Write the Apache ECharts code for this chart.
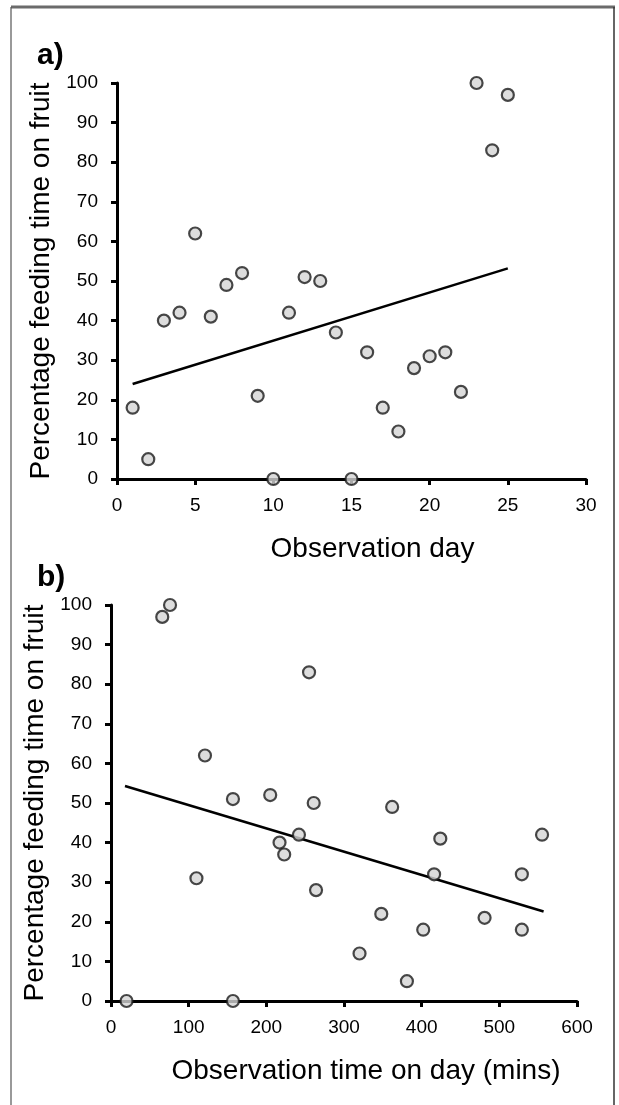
<!DOCTYPE html>
<html>
<head>
<meta charset="utf-8">
<script src="https://cdn.jsdelivr.net/npm/echarts@6/dist/echarts.min.js"></script>
<style>
  html, body { margin: 0; padding: 0; background: #fff; }
  #chart { width: 619px; height: 1105px; }
</style>
</head>
<body>
<div id="chart"></div>
<script>
// panel a: feeding on fruit vs observation day
const daysA = [1, 2, 3, 4, 5, 6, 7, 8, 9, 10, 11, 12, 13, 14, 15, 16, 17, 18, 19, 20, 21, 22, 23, 24, 25]
const fruitPctA = [18, 5, 40, 42, 62, 41, 49, 52, 21, 0, 42, 51, 50, 37, 0, 32, 18, 12, 28, 31, 32, 22, 100, 83, 97]
const trendA = [[1, 24], [25, 53.2]]

// panel b: feeding on fruit vs observation time (mins)
const obsMinsB = [20, 157, 110, 217, 223, 242, 264, 320, 348, 381, 402, 416, 424, 481, 529, 529, 555, 76, 66, 255, 121, 157, 205, 261, 362]
const fruitPctB = [0, 0, 31, 40, 37, 42, 28, 12, 22, 5, 18, 32, 41, 21, 32, 18, 42, 100, 97, 83, 62, 51, 52, 50, 49]
const trendB = [[18, 54.3], [557, 22.6]]

const yTicks = [0, 100, 10]    // min, max, interval
const xTicksA = [0, 30, 5]
const xTicksB = [0, 600, 100]

const FONT = 'Liberation Sans, Arial, sans-serif'
const pairs = (xs, ys) => xs.map((x, i) => [x, ys[i]])

const axisLine = { show: true, onZero: false, lineStyle: { color: '#000', width: 3 } }
const axisTick = { show: true, inside: false, length: 6, lineStyle: { color: '#000', width: 3 } }

function xAxis(idx, ticks, name, shift) {
  return {
    type: 'value', gridIndex: idx,
    min: ticks[0], max: ticks[1], interval: ticks[2],
    name, nameLocation: 'middle', nameGap: 56,
    nameTextStyle: { fontFamily: FONT, fontSize: 28, color: '#000', padding: [0, 0, 0, shift] },
    axisLine, axisTick,
    axisLabel: { fontFamily: FONT, fontSize: 19, color: '#000', margin: 17 },
    splitLine: { show: false }
  }
}

function yAxis(idx, gap) {
  return {
    type: 'value', gridIndex: idx,
    min: yTicks[0], max: yTicks[1], interval: yTicks[2],
    name: 'Percentage feeding time on fruit', nameLocation: 'middle', nameGap: gap,
    nameTextStyle: { fontFamily: FONT, fontSize: 28, color: '#000' },
    axisLine, axisTick,
    axisLabel: { fontFamily: FONT, fontSize: 19, color: '#000', margin: 19 },
    splitLine: { show: false }
  }
}

function dots(idx, data) {
  return {
    type: 'scatter', xAxisIndex: idx, yAxisIndex: idx, data,
    symbol: 'circle', symbolSize: 12, clip: false, z: 4,
    itemStyle: { color: '#d4d4d4', borderColor: '#1a1a1a', borderWidth: 2.2 }
  }
}

function trend(idx, data) {
  return {
    type: 'line', xAxisIndex: idx, yAxisIndex: idx, data,
    symbol: 'none', z: 3, silent: true,
    lineStyle: { color: '#000', width: 2.5 }
  }
}

const chart = echarts.init(document.getElementById('chart'), null, { renderer: 'canvas' })
chart.setOption({
  backgroundColor: '#fff',
  animation: false,
  title: [
    { text: 'a)', left: 32, top: 36, textStyle: { fontFamily: FONT, fontSize: 30, fontWeight: 'bold', color: '#000' } },
    { text: 'b)', left: 32, top: 558, textStyle: { fontFamily: FONT, fontSize: 30, fontWeight: 'bold', color: '#000' } }
  ],
  grid: [
    { left: 117, right: 33, top: 83, bottom: 626 },
    { left: 111, right: 42, top: 605, bottom: 104 }
  ],
  xAxis: [
    xAxis(0, xTicksA, 'Observation day', 42),
    xAxis(1, xTicksB, 'Observation time on day (mins)', 44)
  ],
  yAxis: [yAxis(0, 58), yAxis(1, 52)],
  series: [
    trend(0, trendA),
    dots(0, pairs(daysA, fruitPctA)),
    trend(1, trendB),
    dots(1, pairs(obsMinsB, fruitPctB))
  ],
  graphic: [
    { type: 'line', shape: { x1: 11, y1: 7, x2: 615, y2: 7 }, style: { stroke: '#6b6b6b', lineWidth: 3 } },
    { type: 'line', shape: { x1: 11, y1: 7, x2: 11, y2: 1105 }, style: { stroke: '#555', lineWidth: 1.2 } },
    { type: 'line', shape: { x1: 614, y1: 7, x2: 614, y2: 1105 }, style: { stroke: '#333', lineWidth: 1.5 } }
  ]
})
window.addEventListener('resize', () => chart.resize())
</script>
</body>
</html>
